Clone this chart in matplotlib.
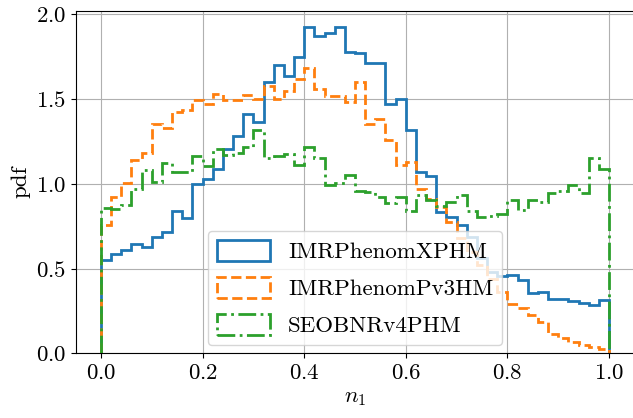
import numpy as np
import matplotlib
matplotlib.use("Agg")
import matplotlib.pyplot as plt

# histogram of n_1, 50 bins on [0, 1]
bin_edges = np.linspace(0, 1, 51)

xphm = [0.553, 0.588, 0.610, 0.647, 0.628, 0.688, 0.713, 0.837, 0.797, 0.998,
        1.027, 1.090, 1.204, 1.282, 1.412, 1.367, 1.602, 1.703, 1.637, 1.749,
        1.925, 1.870, 1.892, 1.925, 1.776, 1.770, 1.710, 1.715, 1.470, 1.502,
        1.320, 1.072, 1.046, 0.833, 0.804, 0.758, 0.687, 0.565, 0.480, 0.455,
        0.462, 0.433, 0.353, 0.362, 0.323, 0.318, 0.310, 0.294, 0.284, 0.314]

pv3hm = [0.757, 0.923, 1.002, 1.141, 1.180, 1.355, 1.329, 1.424, 1.436, 1.494,
         1.468, 1.531, 1.492, 1.492, 1.522, 1.500, 1.578, 1.500, 1.549, 1.618,
         1.684, 1.559, 1.519, 1.519, 1.483, 1.598, 1.355, 1.382, 1.260, 1.108,
         1.127, 0.970, 0.912, 0.862, 0.774, 0.680, 0.600, 0.520, 0.440, 0.362,
         0.292, 0.270, 0.223, 0.183, 0.113, 0.088, 0.068, 0.049, 0.037, 0.024]

seob = [0.855, 0.850, 0.872, 0.970, 1.080, 1.012, 1.120, 1.070, 1.068, 1.162,
        1.103, 1.208, 1.170, 1.183, 1.218, 1.316, 1.155, 1.163, 1.174, 1.108,
        1.220, 1.152, 0.992, 1.007, 1.049, 0.960, 0.954, 0.923, 0.889, 0.921,
        0.841, 0.936, 0.902, 0.870, 0.890, 0.935, 0.841, 0.804, 0.810, 0.824,
        0.902, 0.846, 0.905, 0.894, 0.943, 0.957, 0.990, 0.943, 1.150, 1.085]

labels = ["IMRPhenomXPHM", "IMRPhenomPv3HM", "SEOBNRv4PHM"]
styles = ["-", "--", "-."]

plt.rcParams["font.family"] = "cmr10"
plt.rcParams["mathtext.fontset"] = "cm"
plt.rcParams["axes.unicode_minus"] = False
plt.rcParams["axes.formatter.use_mathtext"] = True
plt.rcParams["font.size"] = 16.5

fig = plt.figure(figsize=(6.33, 4.18), dpi=100)
ax = fig.add_axes([0.1194, 0.1548, 0.8828, 0.8196])

centers = 0.5 * (bin_edges[:-1] + bin_edges[1:])
for vals, lab, ls in zip([xphm, pv3hm, seob], labels, styles):
    ax.hist(centers, bins=bin_edges, weights=vals, histtype="step",
            linestyle=ls, linewidth=2, label=lab)

ax.grid(True)
ax.set_axisbelow(True)
ax.set_xlabel("$n_1$")
ax.set_ylabel("pdf")
ax.legend(loc="lower center", handleheight=1.0, labelspacing=0.65,
          handlelength=2.3, borderaxespad=0.35)

fig.savefig("out.png", dpi=100)
